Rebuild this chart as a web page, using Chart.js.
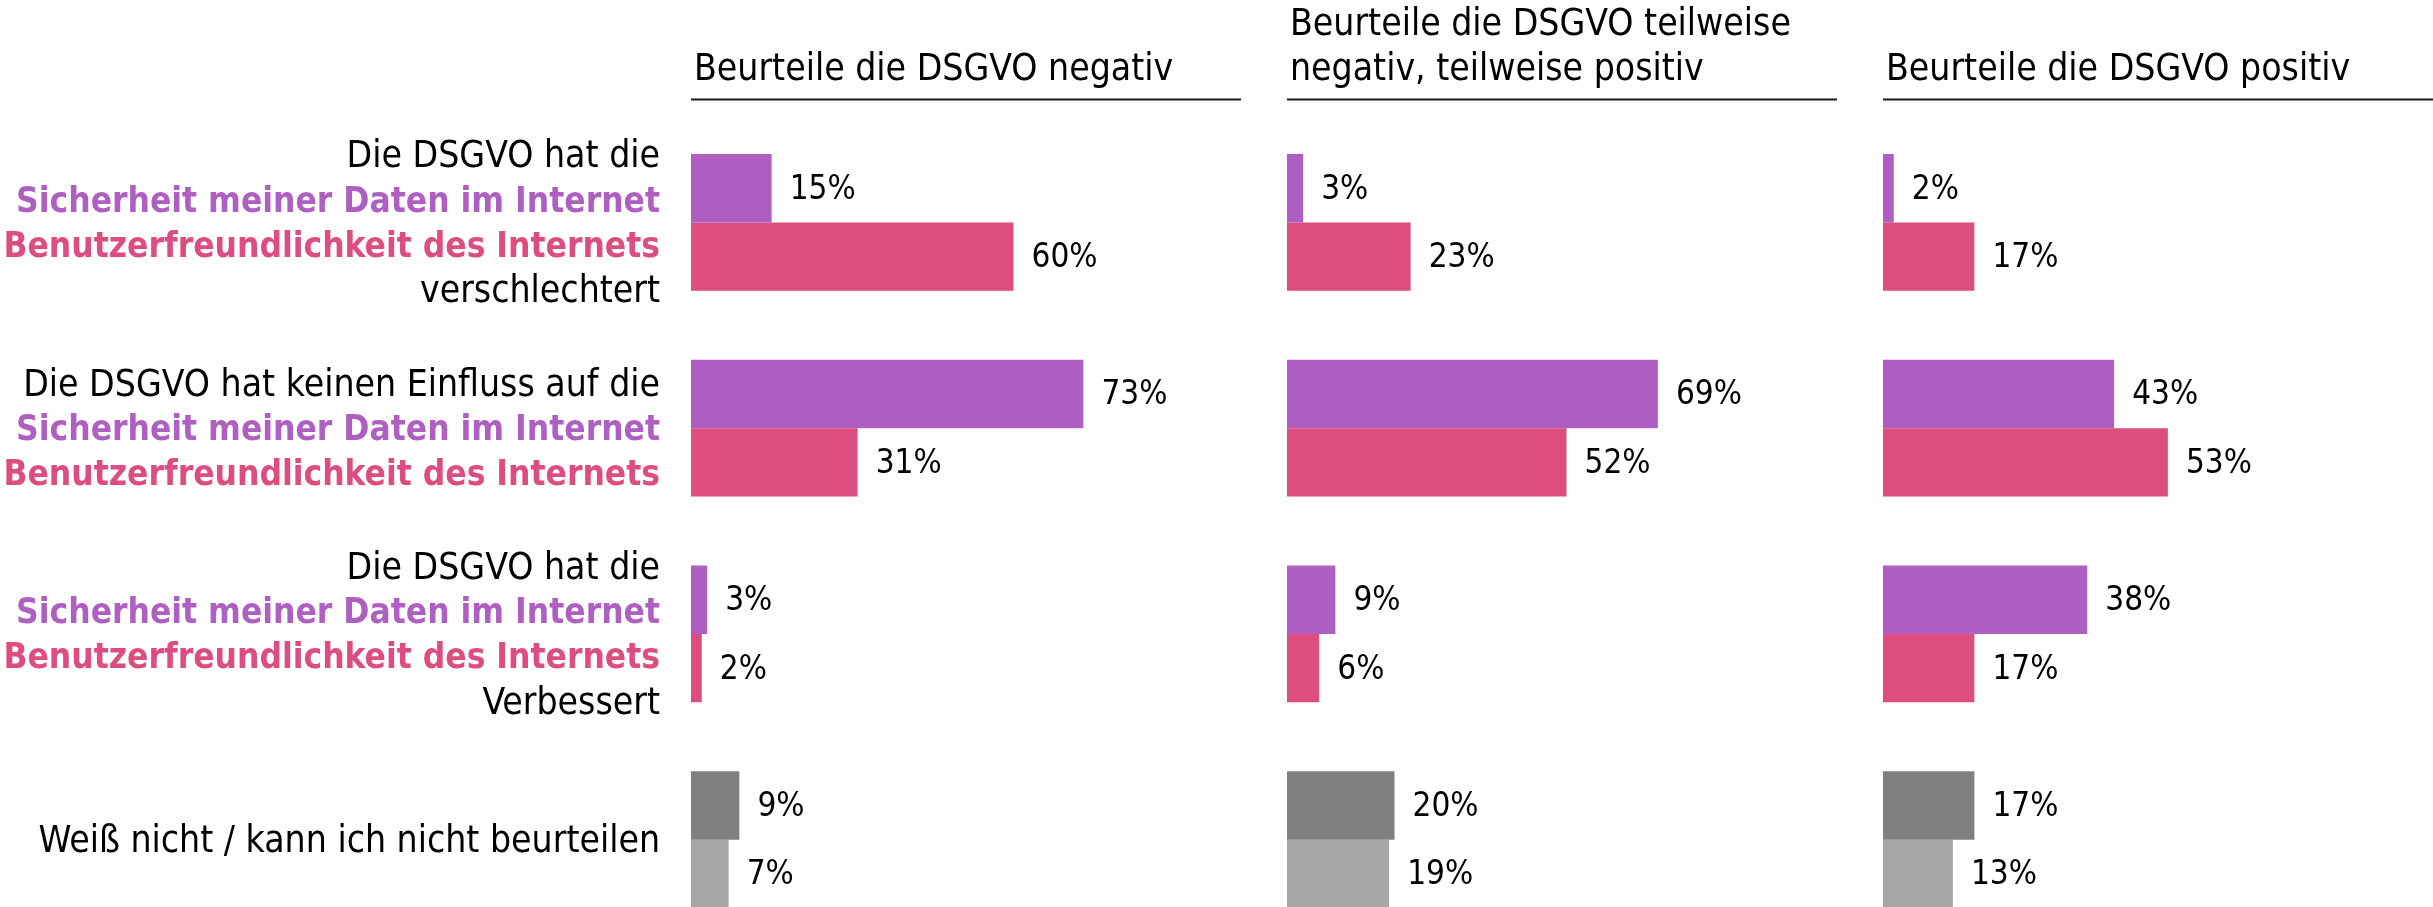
<!DOCTYPE html>
<html lang="de">
<head>
  <meta charset="UTF-8">
  <title>DSGVO - Bewertung</title>
  <script src="https://cdn.jsdelivr.net/npm/chart.js"></script>
  <style>
    html, body { margin: 0; padding: 0; background: #fff; }
    .frame { position: relative; width: 2433px; height: 907px; overflow: hidden; }
    .panel { position: absolute; top: 0; height: 950px; }
    #p1 { left: 0; width: 1241px; }
    #p2 { left: 1241px; width: 596px; }
    #p3 { left: 1837px; width: 596px; }
  </style>
</head>
<body>
  <div class="frame">
    <div class="panel" id="p1"><canvas id="c1"></canvas></div>
    <div class="panel" id="p2"><canvas id="c2"></canvas></div>
    <div class="panel" id="p3"><canvas id="c3"></canvas></div>
  </div>

  <script>
    // data
    const seriesNames = ['Sicherheit meiner Daten im Internet', 'Benutzerfreundlichkeit des Internets'];
    const rowLabels = [
      ['Die DSGVO hat die', 'Sicherheit meiner Daten im Internet', 'Benutzerfreundlichkeit des Internets', 'verschlechtert'],
      ['Die DSGVO hat keinen Einfluss auf die', 'Sicherheit meiner Daten im Internet', 'Benutzerfreundlichkeit des Internets'],
      ['Die DSGVO hat die', 'Sicherheit meiner Daten im Internet', 'Benutzerfreundlichkeit des Internets', 'Verbessert'],
      ['Weiß nicht / kann ich nicht beurteilen']
    ];
    const panelTitles = [
      ['Beurteile die DSGVO negativ'],
      ['Beurteile die DSGVO teilweise', 'negativ, teilweise positiv'],
      ['Beurteile die DSGVO positiv']
    ];
    const negSicherheit = [15, 73, 3, 9];
    const negBenutzer   = [60, 31, 2, 7];
    const mixSicherheit = [3, 69, 9, 20];
    const mixBenutzer   = [23, 52, 6, 19];
    const posSicherheit = [2, 43, 38, 17];
    const posBenutzer   = [17, 53, 17, 13];

    const PURPLE = '#af5fc1';
    const PINK = '#dd4d7f';
    const DARKGRAY = '#808080';
    const LIGHTGRAY = '#a6a6a6';
    const FONT = '"DejaVu Sans Condensed", "DejaVu Sans", sans-serif';
    const FS = 37;       // normal text
    const FS_BOLD = 35;  // coloured bold labels
    const FS_VAL = 33;   // percentages

    // panel title + underline
    const titlePlugin = {
      id: 'panelTitle',
      afterDraw(chart, args, opts) {
        const ctx = chart.ctx;
        const left = chart.chartArea.left;
        ctx.save();
        ctx.fillStyle = '#000';
        ctx.font = FS + 'px ' + FONT;
        ctx.textAlign = 'left';
        ctx.textBaseline = 'alphabetic';
        const lines = opts.lines || [];
        lines.forEach((t, i) => {
          ctx.fillText(t, left + 3, 80 - (lines.length - 1 - i) * 45);
        });
        ctx.strokeStyle = '#1a1a1a';
        ctx.lineWidth = 2;
        ctx.beginPath();
        ctx.moveTo(left, 99.5);
        ctx.lineTo(left + 550, 99.5);
        ctx.stroke();
        ctx.restore();
      }
    };

    // coloured row labels on the left
    const rowLabelPlugin = {
      id: 'rowLabels',
      afterDraw(chart, args, opts) {
        if (!opts.show) return;
        const ctx = chart.ctx;
        const yScale = chart.scales.y;
        const x = chart.chartArea.left - 31;
        ctx.save();
        ctx.textAlign = 'right';
        ctx.textBaseline = 'middle';
        rowLabels.forEach((lines, i) => {
          const cy = yScale.getPixelForValue(i);
          lines.forEach((t, j) => {
            const y = cy + (j - (lines.length - 1) / 2) * 45;
            if (t === seriesNames[0]) { ctx.fillStyle = PURPLE; ctx.font = 'bold ' + FS_BOLD + 'px ' + FONT; }
            else if (t === seriesNames[1]) { ctx.fillStyle = PINK; ctx.font = 'bold ' + FS_BOLD + 'px ' + FONT; }
            else { ctx.fillStyle = '#000'; ctx.font = FS + 'px ' + FONT; }
            ctx.fillText(t, x, y + 3);
          });
        });
        ctx.restore();
      }
    };

    // percentage next to each bar
    const valueLabelPlugin = {
      id: 'valueLabels',
      afterDatasetsDraw(chart) {
        const ctx = chart.ctx;
        ctx.save();
        ctx.fillStyle = '#000';
        ctx.font = FS_VAL + 'px ' + FONT;
        ctx.textAlign = 'left';
        ctx.textBaseline = 'middle';
        chart.data.datasets.forEach((ds, di) => {
          chart.getDatasetMeta(di).data.forEach((bar, i) => {
            ctx.fillText(ds.data[i] + '%', bar.x + 18, bar.y + 2);
          });
        });
        ctx.restore();
      }
    };

    function makePanel(id, top, bottom, title, padLeft, showRows) {
      new Chart(document.getElementById(id), {
        type: 'bar',
        data: {
          labels: rowLabels.map(l => l.join(' ')),
          datasets: [
            { label: seriesNames[0], data: top,
              backgroundColor: [PURPLE, PURPLE, PURPLE, DARKGRAY] },
            { label: seriesNames[1], data: bottom,
              backgroundColor: [PINK, PINK, PINK, LIGHTGRAY] }
          ]
        },
        options: {
          indexAxis: 'y',
          responsive: true,
          maintainAspectRatio: false,
          animation: false,
          datasets: { bar: { barPercentage: 1, categoryPercentage: 0.665, borderWidth: 0 } },
          layout: { padding: { left: padLeft, right: 12.5, top: 119.5, bottom: 7.5 } },
          scales: {
            x: { min: 0, max: 100, display: false },
            y: { display: false }
          },
          plugins: {
            legend: { display: false },
            tooltip: { enabled: false },
            panelTitle: { lines: title },
            rowLabels: { show: showRows }
          }
        },
        plugins: [titlePlugin, rowLabelPlugin, valueLabelPlugin]
      });
    }

    makePanel('c1', negSicherheit, negBenutzer, panelTitles[0], 691, true);
    makePanel('c2', mixSicherheit, mixBenutzer, panelTitles[1], 46, false);
    makePanel('c3', posSicherheit, posBenutzer, panelTitles[2], 46, false);
  </script>
</body>
</html>
